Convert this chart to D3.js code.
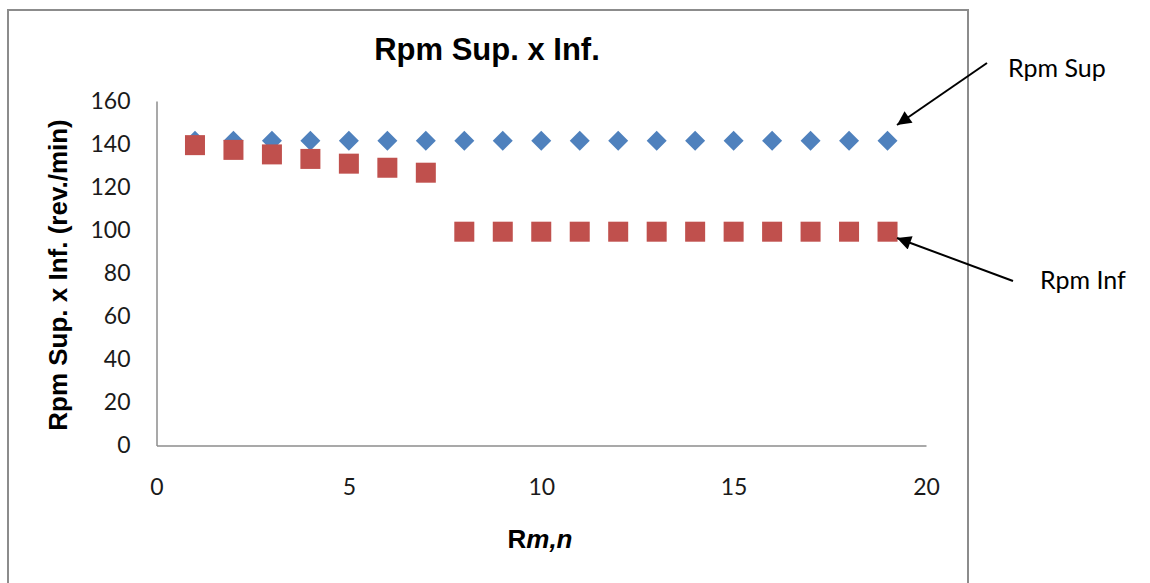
<!DOCTYPE html>
<html><head><meta charset="utf-8">
<script src="https://cdn.jsdelivr.net/npm/d3@7"></script>
<style>body{margin:0;background:#fff;}svg{display:block;}</style>
</head><body>
<svg id="c" width="1150" height="583"></svg>
<script>
const rIndex = [1,2,3,4,5,6,7,8,9,10,11,12,13,14,15,16,17,18,19];
const rpmSup = [141.5,141.5,141.5,141.5,141.5,141.5,141.5,141.5,141.5,141.5,141.5,141.5,141.5,141.5,141.5,141.5,141.5,141.5,141.5];
const rpmInf = [139.5,137.3,135.2,133.1,130.9,129,126.7,99.3,99.3,99.3,99.3,99.3,99.3,99.3,99.3,99.3,99.3,99.3,99.3];
const xTicks = [0,5,10,15,20];
const yTicks = [0,20,40,60,80,100,120,140,160];

const svg = d3.select("#c");
// chart border
svg.append("rect").attr("x",8).attr("y",10).attr("width",960).attr("height",600)
  .attr("fill","#fff").attr("stroke","#8c8c8c").attr("stroke-width",2);

const x = d3.scaleLinear().domain([0,20]).range([156.5,926]);
const y = d3.scaleLinear().domain([0,160]).range([445.5,101]);

const axisColor = "#8c8c8c";
const tickFont = "Lato, 'Open Sans', sans-serif";

// axes
const xAxis = svg.append("g").attr("transform",`translate(0,${y(0)})`)
  .call(d3.axisBottom(x).tickValues(xTicks).tickSize(0).tickPadding(33));
const yAxis = svg.append("g").attr("transform",`translate(${x(0)},0)`)
  .call(d3.axisLeft(y).tickValues(yTicks).tickSize(0).tickPadding(26));
[xAxis,yAxis].forEach(g=>{
  g.select(".domain").attr("stroke",axisColor).attr("stroke-width",1.5);
  g.selectAll("text").attr("font-family",tickFont).attr("font-size",23).attr("fill","#1a1a1a");
});

// series
const supData = rIndex.map((r,i)=>({r,v:rpmSup[i]}));
const infData = rIndex.map((r,i)=>({r,v:rpmInf[i]}));
svg.append("g").selectAll("path").data(supData).join("path")
  .attr("transform",d=>`translate(${x(d.r)},${y(d.v)})`)
  .attr("d","M0,-10L10,0L0,10L-10,0Z").attr("fill","#4f81bd");
svg.append("g").selectAll("rect").data(infData).join("rect")
  .attr("x",d=>x(d.r)-10).attr("y",d=>y(d.v)-10).attr("width",20).attr("height",20)
  .attr("fill","#c0504d");

// title
svg.append("text").attr("x",487).attr("y",60).attr("text-anchor","middle")
  .attr("font-family","Liberation Sans, Arial, sans-serif").attr("font-weight","bold")
  .attr("font-size",31).attr("fill","#000").text("Rpm Sup. x Inf.");
// y title
svg.append("text").attr("transform","translate(67,275) rotate(-90)").attr("text-anchor","middle")
  .attr("font-family","Liberation Sans, Arial, sans-serif").attr("font-weight","bold")
  .attr("font-size",26).attr("fill","#000").text("Rpm Sup. x Inf. (rev./min)");
// x title
const xt = svg.append("text").attr("x",540).attr("y",548).attr("text-anchor","middle")
  .attr("font-family","Liberation Sans, Arial, sans-serif").attr("font-weight","bold")
  .attr("font-size",26).attr("fill","#000");
xt.append("tspan").text("R");
xt.append("tspan").attr("font-style","italic").text("m,n");

// annotations
const defs = svg.append("defs");
defs.append("marker").attr("id","ah").attr("viewBox","0 0 10 10").attr("refX",10).attr("refY",5)
  .attr("markerWidth",18).attr("markerHeight",14).attr("markerUnits","userSpaceOnUse")
  .attr("orient","auto").append("path").attr("d","M0,0L10,5L0,10Z").attr("fill","#000");
svg.append("line").attr("x1",987).attr("y1",63).attr("x2",897).attr("y2",125)
  .attr("stroke","#000").attr("stroke-width",2).attr("marker-end","url(#ah)");
svg.append("line").attr("x1",1013).attr("y1",281).attr("x2",897).attr("y2",238)
  .attr("stroke","#000").attr("stroke-width",2).attr("marker-end","url(#ah)");
svg.append("text").attr("x",1008).attr("y",77).attr("font-family",tickFont).attr("font-size",25)
  .attr("fill","#000").text("Rpm Sup");
svg.append("text").attr("x",1040).attr("y",289).attr("font-family",tickFont).attr("font-size",25)
  .attr("fill","#000").text("Rpm Inf");
</script>
</body></html>
